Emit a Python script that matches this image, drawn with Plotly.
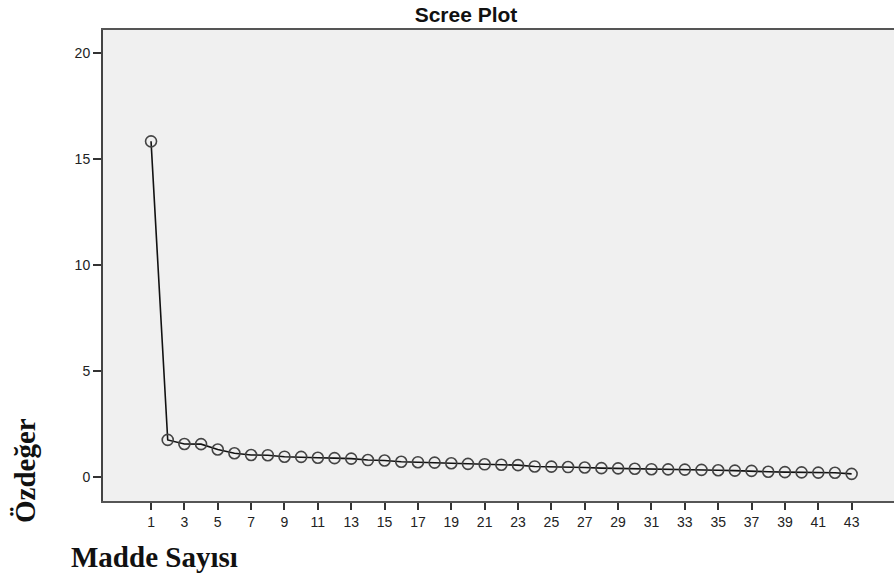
import plotly.graph_objects as go

components = list(range(1, 44))
eigenvalues = [15.83, 1.75, 1.56, 1.55, 1.30, 1.12, 1.04, 1.03, 0.96, 0.95,
               0.91, 0.89, 0.87, 0.80, 0.78, 0.72, 0.70, 0.68, 0.65, 0.62,
               0.60, 0.58, 0.56, 0.50, 0.49, 0.47, 0.45, 0.42, 0.41, 0.39,
               0.37, 0.36, 0.35, 0.34, 0.32, 0.30, 0.29, 0.25, 0.23, 0.22,
               0.21, 0.20, 0.15]
x_ticks = list(range(1, 44, 2))
y_ticks = [0, 5, 10, 15, 20]

W, H = 894, 575
L, R, T, B = 103, 0, 30, 575 - 501
pw, ph = W - L - R, H - T - B

fig = go.Figure()
fig.add_trace(go.Scatter(
    x=components, y=eigenvalues, mode="lines+markers",
    line=dict(color="#111111", width=1.6),
    marker=dict(symbol="circle-open", size=11, color="#444444",
                line=dict(width=1.6, color="#444444")),
    showlegend=False, hoverinfo="x+y"))

axis_font = dict(family="Liberation Sans, Arial, sans-serif", size=14, color="#222222")

fig.update_layout(
    width=W, height=H,
    margin=dict(l=L, r=R, t=T, b=B, pad=0),
    paper_bgcolor="white", plot_bgcolor="#f0f0f0",
    title=dict(text="<b>Scree Plot</b>", xref="paper", x=(466 - L) / pw, xanchor="center",
               yref="container", y=1 - 15 / H, yanchor="middle",
               font=dict(family="Liberation Sans, Arial, sans-serif", size=21, color="#111111")),
    xaxis=dict(range=[-1.88, 45.54], tickmode="array", tickvals=x_ticks,
               ticktext=[str(v) for v in x_ticks], ticks="outside", ticklen=7,
               tickwidth=1.5, tickcolor="#333333", showgrid=False, zeroline=False,
               showline=True, linecolor="#555555", linewidth=2, mirror=True,
               tickfont=axis_font),
    yaxis=dict(range=[-1.13, 21.08], tickmode="array", tickvals=y_ticks,
               ticktext=[str(v) for v in y_ticks], ticks="outside", ticklen=8,
               tickwidth=1.5, tickcolor="#333333", showgrid=False, zeroline=False,
               showline=True, linecolor="#444444", linewidth=2,
               tickfont=axis_font),
    annotations=[
        dict(text="<b>Özdeğer</b>", textangle=-90, xref="paper", yref="paper",
             x=(25 - L) / pw, y=(501 - 471) / ph, xanchor="center", yanchor="middle",
             showarrow=False,
             font=dict(family="Liberation Serif, Times New Roman, serif", size=29, color="#111111")),
        dict(text="<b>Madde Sayısı</b>", xref="paper", yref="paper",
             x=(154 - L) / pw, y=(501 - 557) / ph, xanchor="center", yanchor="middle",
             showarrow=False,
             font=dict(family="Liberation Serif, Times New Roman, serif", size=29, color="#111111")),
    ],
)

fig.write_html("out.html", config={"displayModeBar": False},
               post_script="document.body.style.margin='0';document.body.style.overflow='hidden';")
